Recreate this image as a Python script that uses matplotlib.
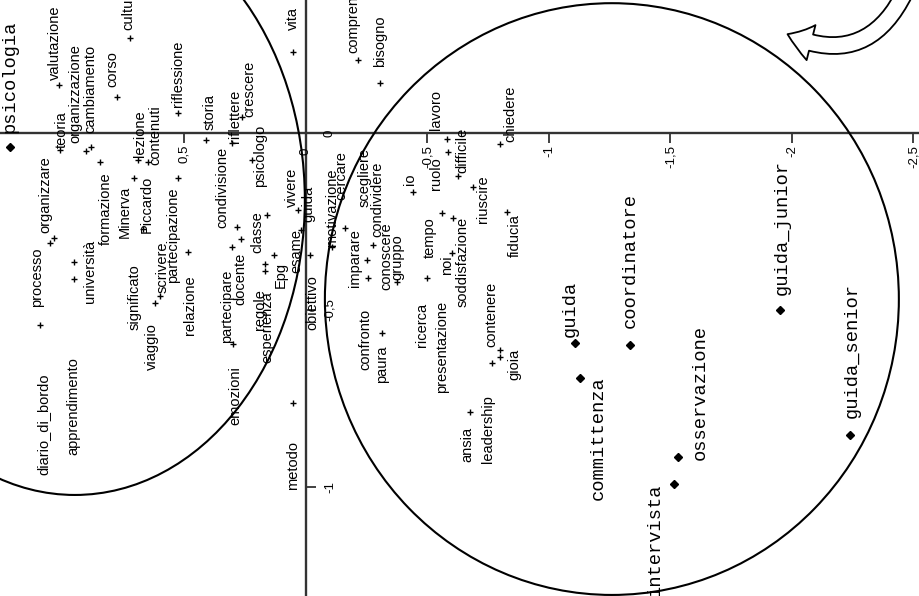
import matplotlib
matplotlib.use("Agg")
import matplotlib.pyplot as plt
from matplotlib.patches import Ellipse, FancyArrowPatch
from matplotlib.markers import TICKDOWN, TICKRIGHT

# ---- Correspondence analysis coordinates -------------------------------
# factor 1 is drawn vertically, factor 2 horizontally (positive to the left)

word_names = [
    "valutazione", "teoria", "organizzazione", "cambiamento", "corso", "cultura",
    "riflessione", "lezione", "contenuti", "storia", "riflettere", "crescere",
    "psicologo", "vita", "comprendere", "bisogno", "lavoro", "ruolo", "difficile",
    "io", "chiedere", "riuscire", "formazione", "Minerva", "Piccardo", "università",
    "", "processo", "organizzare", "", "diario_di_bordo", "apprendimento",
    "significato", "viaggio", "scrivere", "partecipazione", "relazione",
    "condivisione", "docente", "", "partecipare", "classe", "regole", "esperienza",
    "Epg", "vivere", "guida", "esame", "obiettivo", "emozioni", "metodo",
    "motivazione", "cercare", "imparare", "confronto", "scegliere", "condividere",
    "conoscere", "gruppo", "paura", "tempo", "ricerca", "noi", "soddisfazione",
    "presentazione", "fiducia", "contenere", "gioia", "", "ansia", "leadership",
]
word_f1 = [
    0.136, -0.048, -0.051, -0.040, 0.102, 0.268,
    0.056, -0.076, -0.082, -0.020, -0.028, 0.045,
    -0.076, 0.229, 0.206, 0.141, -0.017, -0.054, -0.121,
    -0.167, -0.031, -0.153, -0.082, -0.127, -0.271, -0.412,
    -0.364, -0.542, -0.311, -0.297, -0.966, -0.910,
    -0.556, -0.480, -0.460, -0.127, -0.336,
    -0.266, -0.299, -0.322, -0.596, -0.232, -0.390, -0.370,
    -0.345, -0.218, -0.251, -0.274, -0.345, -0.825, -0.763,
    -0.322, -0.268, -0.359, -0.410, -0.209, -0.316,
    -0.444, -0.421, -0.565, -0.226, -0.410, -0.339, -0.240,
    -0.734, -0.223, -0.650, -0.613, -0.633, -0.788, -0.932,
]
word_f2 = [
    1.016, 1.012, 0.905, 0.885, 0.778, 0.724,
    0.527, 0.691, 0.650, 0.412, 0.305, 0.263,
    0.222, 0.053, -0.214, -0.305, -0.580, -0.584, -0.626,
    -0.440, -0.798, -0.687, 0.848, 0.708, 0.671, 0.955,
    0.955, 1.095, 1.053, 1.037, 1.082, 0.959,
    0.704, 0.621, 0.601, 0.527, 0.486,
    0.284, 0.267, 0.305, 0.300, 0.160, 0.169, 0.169,
    0.132, 0.033, -0.012, 0.021, -0.016, 0.292, 0.053,
    -0.107, -0.160, -0.251, -0.255, -0.243, -0.276,
    -0.329, -0.374, -0.313, -0.560, -0.498, -0.601, -0.605,
    -0.560, -0.827, -0.765, -0.798, -0.798, -0.675, -0.749,
]
# words whose point symbol is not printed
words_without_symbol = {"diario_di_bordo", "apprendimento", "significato", "guida",
                        "emozioni", "scegliere", "conoscere", "presentazione",
                        "leadership"}

profile_names = ["psicologia", "guida", "coordinatore", "committenza",
                 "osservazione", "intervista", "guida_junior", "guida_senior"]
profile_f1 = [-0.040, -0.593, -0.599, -0.692, -0.915, -0.992, -0.500, -0.853]
profile_f2 = [1.218, -1.107, -1.333, -1.128, -1.531, -1.514, -1.951, -2.239]

h_ticks = [0.5, 0.0, -0.5, -1.0, -1.5, -2.0, -2.5]
h_tick_labels = ["0,5", "0", "-0,5", "-1", "-1,5", "-2", "-2,5"]
v_ticks = [0.0, -0.5, -1.0]
v_tick_labels = ["0", "-0,5", "-1"]

# ---- label placement (pixel offsets of the label foot from its point) ----
word_dx = [
    -4, 2, -11, -1, -5, -2,
    0, 2, 7, 4, 3, 7,
    8, 0, -5, 0, -11, -12, 4,
    -3, 11, 10, 6, -9, 4, 16,
    0, -3, -5, 0, 0, 0,
    0, -3, 3, -5, 2,
    -15, -1, 0, -6, -10, -5, 3,
    7, -6, 0, -4, 3, 0, 0,
    0, -3, -12, -3, 0, 4,
    0, 1, 0, -12, -5, -5, 10,
    0, 8, 0, 15, 0, -3, 0,
]
word_dy = [
    5, 2, 8, 14, 10, 8,
    6, 3, -3, 10, 0, 0,
    -27, 22, 7, 16, 9, -38, 3,
    7, 2, -36, -83, -60, -4, -24,
    0, 18, 10, 0, 0, 0,
    0, -67, 3, -105, -83,
    -1, -66, 0, 1, -38, -59, -99,
    -33, 3, 0, -43, -75, 0, -87,
    0, 28, -27, -92, 0, 8,
    0, 2, -50, -45, -69, -22, -89,
    0, -45, 16, -30, 0, -50, 0,
]
profile_dx = [0, -5, 0, 18, 22, -19, 2, 2]
profile_dy = [14, 6, 17, -122, -3, -112, 15, 17]

SANS = "Liberation Sans"
MONO = "Liberation Mono"
INK = "black"
AXIS = "#333333"

fig = plt.figure(figsize=(9.2, 5.96), dpi=100)
ax = fig.add_axes([0, 0, 1, 1])
ax.set_xlim(1.259, -2.527)
ax.set_ylim(-1.308, 0.376)
ax.axis("off")

# axes through the origin
ax.axhline(0, color=AXIS, lw=1.7, zorder=1)
ax.axvline(0, color=AXIS, lw=1.7, zorder=1)

ax.plot(h_ticks, [0] * len(h_ticks), ls="none", marker=TICKDOWN, ms=7,
        mew=1.3, color=AXIS, zorder=1)
for t, lab in zip(h_ticks, h_tick_labels):
    ax.annotate(lab, (t, 0), xytext=(0, -12 if lab != "0" else -15),
                textcoords="offset pixels", rotation=90, ha="center", va="top",
                fontsize=9.5, family=SANS, color=INK)
ax.plot([0] * len(v_ticks), v_ticks, ls="none", marker=TICKRIGHT, ms=7,
        mew=1.3, color=AXIS, zorder=1)
for t, lab in zip(v_ticks, v_tick_labels):
    ax.annotate(lab, (0, t), xytext=(24, 0), textcoords="offset pixels",
                rotation=90, ha="center", va="center",
                fontsize=9.5, family=SANS, color=INK)

# group outlines
ax.add_patch(Ellipse((0.951, -0.189), 1.893, 1.667, fill=False,
                     ec=INK, lw=1.5, zorder=2))
ax.add_patch(Ellipse((-1.259, -0.469), 2.362, 1.672, fill=False,
                     ec=INK, lw=1.5, zorder=2))

# words
for name, f1, f2, dx, dy in zip(word_names, word_f1, word_f2, word_dx, word_dy):
    if name not in words_without_symbol:
        ax.plot(f2, f1, ls="none", marker="+", ms=5, mew=1.0, color=INK, zorder=3)
    if name:
        ax.annotate(name, (f2, f1), xytext=(dx, dy), textcoords="offset pixels",
                    rotation=90, ha="center", va="bottom",
                    fontsize=10.5, family=SANS, color=INK, zorder=4)

# profile categories
for name, f1, f2, dx, dy in zip(profile_names, profile_f1, profile_f2,
                                profile_dx, profile_dy):
    ax.plot(f2, f1, ls="none", marker="D", ms=4.5, color=INK, zorder=3)
    ax.annotate(name, (f2, f1), xytext=(dx, dy), textcoords="offset pixels",
                rotation=90, ha="center", va="bottom",
                fontsize=13.5, family=MONO, color=INK, zorder=4)

# rotation hint arrow in the corner
arrow = FancyArrowPatch((906 / 920, 1 + 10 / 596), (785 / 920, 1 - 33 / 596),
                        transform=fig.transFigure,
                        connectionstyle="arc3,rad=-0.5",
                        arrowstyle="simple,head_length=1.8,head_width=2.6,tail_width=1.2",
                        mutation_scale=10, fc="white", ec=INK, lw=1.3)
fig.patches.append(arrow)

fig.savefig("out.png", dpi=100, facecolor="white")
